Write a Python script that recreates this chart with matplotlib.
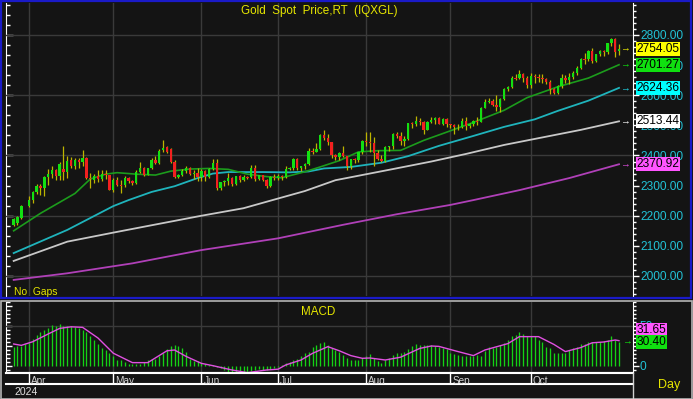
import numpy as np
import matplotlib
matplotlib.use('Agg')
import matplotlib.pyplot as plt
import matplotlib.transforms as mtransforms
from matplotlib.lines import Line2D
from matplotlib.patches import Rectangle
from matplotlib.ticker import MultipleLocator, FixedLocator, FormatStrFormatter

plt.rcParams['font.family'] = ['Liberation Sans', 'DejaVu Sans']

# daily candles 26 Mar .. 1 Nov 2024, one slot per weekday (29 Mar empty)
opens = [2170, 2177, 2194, None, 2232, 2251, 2280, 2300, 2291, 2329,
         2340, 2353, 2333, 2356, 2344, 2384, 2364, 2386, 2380, 2392,
         2326, 2318, 2333, 2322, 2338, 2335, 2287, 2318, 2303, 2301,
         2325, 2314, 2309, 2346, 2360, 2336, 2357, 2386, 2376, 2418,
         2428, 2421, 2379, 2329, 2334, 2350, 2360, 2338, 2343, 2327,
         2350, 2327, 2355, 2376, 2293, 2311, 2316, 2324, 2304, 2333,
         2319, 2329, 2327, 2360, 2322, 2334, 2320, 2298, 2327, 2326,
         2332, 2330, 2356, 2357, 2390, 2359, 2364, 2371, 2415, 2411,
         2422, 2469, 2459, 2445, 2401, 2396, 2409, 2397, 2364, 2387,
         2384, 2410, 2447, 2446, 2443, 2409, 2390, 2382, 2427, 2431,
         2472, 2465, 2447, 2456, 2507, 2504, 2514, 2512, 2485, 2512,
         2518, 2524, 2505, 2520, 2503, 2500, 2493, 2495, 2516, 2497,
         2506, 2516, 2512, 2558, 2578, 2582, 2569, 2560, 2587, 2622,
         2628, 2657, 2656, 2672, 2658, 2634, 2663, 2659, 2656, 2653,
         2644, 2622, 2608, 2631, 2657, 2649, 2662, 2674, 2692, 2721,
         2719, 2748, 2714, 2736, 2747, 2743, 2774, 2788, 2746]
highs = [2193, 2199, 2236, None, 2266, 2281, 2305, 2305, 2331, 2354,
         2365, 2355, 2378, 2431, 2397, 2394, 2392, 2392, 2418, 2394,
         2342, 2338, 2352, 2353, 2353, 2336, 2326, 2327, 2320, 2331,
         2328, 2318, 2352, 2378, 2361, 2359, 2393, 2398, 2422, 2450,
         2432, 2426, 2385, 2340, 2355, 2364, 2362, 2352, 2360, 2354,
         2351, 2357, 2387, 2387, 2313, 2317, 2342, 2328, 2333, 2335,
         2334, 2332, 2368, 2369, 2335, 2335, 2323, 2331, 2340, 2338,
         2335, 2365, 2363, 2392, 2392, 2365, 2376, 2424, 2424, 2440,
         2470, 2483, 2470, 2446, 2406, 2412, 2431, 2399, 2390, 2392,
         2412, 2451, 2477, 2477, 2461, 2419, 2401, 2432, 2433, 2475,
         2477, 2479, 2464, 2509, 2510, 2531, 2526, 2513, 2513, 2528,
         2527, 2528, 2524, 2524, 2505, 2504, 2504, 2523, 2529, 2509,
         2518, 2529, 2560, 2586, 2590, 2589, 2600, 2592, 2625, 2632,
         2664, 2670, 2685, 2674, 2665, 2673, 2669, 2672, 2670, 2658,
         2649, 2625, 2634, 2670, 2666, 2673, 2679, 2696, 2722, 2740,
         2749, 2758, 2737, 2749, 2749, 2774, 2790, 2790, 2770]
lows = [2166, 2170, 2190, None, 2228, 2243, 2272, 2268, 2266, 2302,
        2325, 2318, 2317, 2320, 2326, 2360, 2355, 2357, 2365, 2321,
        2291, 2309, 2311, 2315, 2323, 2285, 2280, 2298, 2277, 2295,
        2308, 2303, 2306, 2342, 2332, 2335, 2354, 2371, 2371, 2410,
        2407, 2374, 2326, 2325, 2331, 2341, 2334, 2323, 2315, 2314,
        2316, 2326, 2352, 2287, 2287, 2298, 2302, 2298, 2302, 2311,
        2315, 2321, 2326, 2316, 2318, 2316, 2293, 2296, 2319, 2318,
        2318, 2324, 2351, 2353, 2353, 2350, 2355, 2368, 2404, 2410,
        2418, 2452, 2436, 2393, 2385, 2385, 2394, 2353, 2354, 2376,
        2380, 2406, 2430, 2410, 2364, 2386, 2378, 2380, 2414, 2423,
        2457, 2436, 2431, 2453, 2492, 2498, 2501, 2470, 2484, 2507,
        2506, 2504, 2502, 2493, 2491, 2472, 2484, 2490, 2486, 2492,
        2497, 2500, 2510, 2556, 2574, 2564, 2547, 2546, 2585, 2614,
        2624, 2652, 2655, 2643, 2624, 2625, 2640, 2644, 2640, 2637,
        2605, 2603, 2603, 2625, 2640, 2637, 2653, 2666, 2688, 2704,
        2713, 2708, 2712, 2729, 2729, 2736, 2765, 2728, 2733]
closes = [2189, 2195, 2232, None, 2251, 2280, 2300, 2291, 2329, 2340,
          2353, 2333, 2372, 2344, 2383, 2364, 2386, 2380, 2392, 2326,
          2322, 2331, 2322, 2338, 2335, 2287, 2318, 2302, 2301, 2325,
          2314, 2309, 2346, 2360, 2336, 2357, 2386, 2376, 2415, 2424,
          2413, 2379, 2329, 2334, 2350, 2360, 2338, 2343, 2327, 2350,
          2327, 2355, 2376, 2293, 2311, 2316, 2324, 2304, 2333, 2319,
          2329, 2327, 2360, 2322, 2334, 2320, 2298, 2327, 2326, 2332,
          2330, 2356, 2357, 2390, 2359, 2364, 2371, 2415, 2411, 2422,
          2469, 2459, 2445, 2401, 2396, 2409, 2397, 2364, 2387, 2384,
          2410, 2447, 2446, 2443, 2409, 2390, 2382, 2427, 2431, 2472,
          2465, 2447, 2456, 2507, 2504, 2514, 2512, 2485, 2512, 2518,
          2524, 2505, 2520, 2503, 2500, 2493, 2495, 2516, 2497, 2506,
          2516, 2512, 2558, 2578, 2582, 2569, 2560, 2587, 2622, 2628,
          2657, 2656, 2672, 2658, 2634, 2663, 2659, 2656, 2653, 2644,
          2622, 2608, 2631, 2657, 2649, 2662, 2674, 2692, 2721, 2719,
          2748, 2714, 2736, 2747, 2743, 2774, 2788, 2743, 2754.05]

# moving averages (bar index, value)
ma_green_idx = [0, 7, 13, 16, 20, 24, 27, 32, 37, 41, 46, 51, 56, 61, 66, 70, 76,
                80, 85, 90, 95, 101, 107, 114, 120, 128, 134, 142, 150, 158]
ma_green = [2150, 2208, 2252, 2274, 2322, 2338, 2343, 2338, 2335, 2348, 2355, 2357,
            2354, 2338, 2330, 2326, 2346, 2362, 2383, 2412, 2416, 2417, 2450, 2482,
            2510, 2550, 2592, 2628, 2657, 2701.27]
ma_cyan_idx = [0, 14, 26, 30, 36, 42, 48, 52, 56, 65, 72, 77, 81, 88, 96, 103,
               111, 120, 128, 136, 142, 150, 158]
ma_cyan = [2076, 2153, 2232, 2252, 2279, 2298, 2325, 2340, 2345, 2345, 2344, 2347,
           2357, 2362, 2376, 2398, 2432, 2465, 2495, 2520, 2548, 2582, 2624.36]
ma_white_idx = [0, 14, 26, 35, 49, 60, 67, 76, 84, 99, 109, 118, 128, 138, 148, 158]
ma_white = [2050, 2114, 2144, 2166, 2200, 2225, 2250, 2282, 2318, 2355, 2380, 2405,
            2435, 2460, 2485, 2513.44]
ma_mag_idx = [0, 14, 31, 49, 69, 86, 100, 114, 120, 132, 145, 158]
ma_mag = [1987, 2009, 2042, 2086, 2125, 2170, 2205, 2236, 2252, 2285, 2325, 2370.92]

macd = [24, 25, 25, 27, 29, 34, 39, 42, 45, 47, 51, 50, 52, 50, 50, 50, 49, 47, 45, 43,
        37, 32, 27, 23, 20, 16, 13, 8, 7, 5, 3, 3, 2, 3, 5, 7, 9, 9, 12, 16,
        21, 25, 26, 25, 22, 17, 9, 6, 6, 4, 2, 1, 1, -1, -3, -5, -7, -8, -8, -7,
        -8, -8, -6, -5, -4, -5, -5, -4, -3, -1, 1, 4, 5, 8, 9, 12, 16, 18, 24, 26,
        29, 30, 26, 22, 20, 17, 14, 10, 8, 7, 8, 10, 12, 15, 10, 6, 4, 7, 10, 14,
        16, 16, 18, 21, 25, 27, 26, 26, 26, 26, 25, 24, 22, 21, 16, 15, 14, 13, 12, 12,
        13, 14, 12, 19, 24, 23, 24, 26, 29, 33, 37, 39, 42, 40, 37, 37, 37, 32, 30, 24,
        22, 16, 16, 16, 16, 20, 22, 24, 27, 28, 30, 30, 30, 30, 31, 33, 37, 32, 30.40]
signal_idx = [0, 2, 5, 9, 12, 15, 18, 22, 26, 31, 35, 40, 42, 45, 49, 52, 57, 61, 66,
              69, 71, 75, 78, 82, 85, 88, 91, 93, 97, 101, 106, 109, 111, 116, 120,
              123, 129, 132, 137, 141, 144, 148, 151, 154, 157, 158]
signal = [27.5, 25.8, 30.4, 40, 47, 49, 48.3, 35, 16, 4.2, 4.2, 19, 20, 12, 3.3, 0.4,
          -5, -8.3, -5, -4, 1.3, 7.5, 15.8, 24.2, 19, 13, 9.6, 10, 7.5, 11, 22, 25,
          24.5, 18, 13, 20, 28, 36.7, 36.7, 27, 18, 23, 29, 30, 32.5, 31.65]

months = ['Apr', 'May', 'Jun', 'Jul', 'Aug', 'Sep', 'Oct']
month_start = [4, 26, 49, 69, 92, 114, 135]

BG = '#141414'
GRID = '#3a3a3a'
CYAN = '#22c2d6'
YELLOW = '#e6e600'

W, H = 693, 399
fig = plt.figure(figsize=(W / 100, H / 100), dpi=100, facecolor=BG)


def fx(x):
    return x / W


def fy(y):
    return 1 - y / H


def box(x0, y0, x1, y1):
    return [fx(x0), fy(y1), fx(x1) - fx(x0), fy(y0) - fy(y1)]


XLIM = (-2.0, 161.65)

# ---- price panel
ax = fig.add_axes(box(6, 3, 633, 296), facecolor=BG)
ax.set_xlim(*XLIM)
ax.set_ylim(1933.6, 2906.2)
for v in range(2000, 2801, 200):
    ax.axhline(v, color=GRID, lw=1, zorder=1)
for m in month_start:
    ax.axvline(m, color=GRID, lw=1, zorder=1)

o = np.array(opens, dtype=float)
h = np.array(highs, dtype=float)
l = np.array(lows, dtype=float)
c = np.array(closes, dtype=float)
x = np.arange(len(c))
ok = ~np.isnan(c)
up = c >= o
body = c - o
body = np.where(np.abs(body) < 3, np.where(up, 3, -3), body)
ax.vlines(x[ok], l[ok], h[ok], color='#bdb400', lw=0.9, zorder=3)
ax.bar(x[ok], body[ok], bottom=o[ok], width=0.62, linewidth=0,
       color=np.where(up, '#12e012', '#f22020')[ok], zorder=4)

ax.plot(ma_mag_idx, ma_mag, color='#b040b8', lw=1.3, zorder=2)
ax.plot(ma_white_idx, ma_white, color='#c8c8c8', lw=1.3, zorder=2)
ax.plot(ma_cyan_idx, ma_cyan, color='#1fb4bc', lw=1.3, zorder=2)
ax.plot(ma_green_idx, ma_green, color='#1c9c1c', lw=1.2, zorder=2)

ax.yaxis.tick_right()
ax.yaxis.set_major_locator(FixedLocator(range(2000, 2801, 100)))
ax.yaxis.set_minor_locator(MultipleLocator(20))
ax.yaxis.set_major_formatter(FormatStrFormatter('%.2f'))
ax.tick_params(axis='y', which='both', direction='out', colors='white',
               labelcolor=CYAN, labelsize=8.6, pad=1, width=1)
ax.tick_params(axis='y', which='major', length=4)
ax.tick_params(axis='y', which='minor', length=2)
ax.tick_params(axis='x', bottom=False, labelbottom=False)
for s in ['top', 'bottom', 'left']:
    ax.spines[s].set_visible(False)
ax.spines['right'].set_color('white')

sec = ax.secondary_yaxis('left')
sec.yaxis.set_major_locator(MultipleLocator(200))
sec.yaxis.set_minor_locator(MultipleLocator(200 / 6))
sec.tick_params(which='both', direction='in', colors='white', labelleft=False, width=1)
sec.tick_params(which='major', length=5)
sec.tick_params(which='minor', length=3)
sec.spines['left'].set_color('white')

# ---- MACD panel
axm = fig.add_axes(box(6, 302, 633, 373), facecolor=BG)
axm.set_xlim(*XLIM)
axm.set_ylim(-8.75, 80)
axm.axhline(50, color=GRID, lw=1, zorder=1)
for m in month_start:
    axm.axvline(m, color=GRID, lw=1, zorder=1)
axm.vlines(x, 0, macd, color='#14d214', lw=0.95, zorder=3)
axm.plot(signal_idx, signal, color='#e050e0', lw=1.0, zorder=4)
axm.yaxis.tick_right()
axm.yaxis.set_major_locator(FixedLocator([0, 50]))
axm.yaxis.set_minor_locator(MultipleLocator(5))
axm.tick_params(axis='y', which='both', direction='out', colors='white',
                labelcolor=CYAN, labelsize=8.6, pad=1, width=1)
axm.tick_params(axis='y', which='major', length=4)
axm.tick_params(axis='y', which='minor', length=2)
axm.tick_params(axis='x', bottom=False, labelbottom=False)
for s in ['top', 'left']:
    axm.spines[s].set_visible(False)
axm.spines['right'].set_color('white')
axm.spines['bottom'].set_color('white')
axm.spines['bottom'].set_linewidth(1.5)
secm = axm.secondary_yaxis('left')
secm.yaxis.set_major_locator(MultipleLocator(25))
secm.yaxis.set_minor_locator(MultipleLocator(5))
secm.tick_params(which='both', direction='in', colors='white', labelleft=False, width=1)
secm.tick_params(which='major', length=4)
secm.tick_params(which='minor', length=3)
secm.spines['left'].set_color('white')

# ---- date strip
axd = fig.add_axes(box(6, 373, 633, 384), facecolor=BG)
axd.set_xlim(*XLIM)
axd.set_ylim(0, 1)
axd.set_xticks([])
axd.set_yticks([])
for s in ['left', 'right']:
    axd.spines[s].set_visible(False)
for s in ['top', 'bottom']:
    axd.spines[s].set_color('white')
    axd.spines[s].set_linewidth(1.5)
for m, name in zip(month_start, months):
    axd.axvline(m, color='white', lw=1)
    axd.text(m + 0.5, 0.3, name, color='#d4d4d4', fontsize=7.2, ha='left',
             va='center', clip_on=True)

# ---- frames
fig.add_artist(Rectangle((fx(1), fy(298)), fx(691) - fx(1), fy(1) - fy(298),
                         transform=fig.transFigure, fill=False, ec='#1a1ac8', lw=1.6))
fig.add_artist(Rectangle((fx(0.5), fy(398.5)), fx(692) - fx(0.5), fy(301) - fy(398.5),
                         transform=fig.transFigure, fill=False, ec='#b4b4b4', lw=1.2))
fig.add_artist(Line2D([fx(633), fx(633)], [fy(373), fy(399)], transform=fig.transFigure,
                      color='#d0d0d0', lw=1))

# ---- texts
fig.text(fx(319), fy(11), 'Gold  Spot  Price,RT  (IQXGL)', color=YELLOW,
         fontsize=8.4, ha='center', va='center')
fig.text(fx(318), fy(312), 'MACD', color=YELLOW, fontsize=8.4, ha='center', va='center')
fig.text(fx(14), fy(292), 'No  Gaps', color=YELLOW, fontsize=7.4, ha='left', va='center')
fig.text(fx(14), fy(392), '2024', color='#e0e0e0', fontsize=7.6, ha='left', va='center')
fig.text(fx(669), fy(385), 'Day', color=YELLOW, fontsize=9, ha='center', va='center')

# last-value tags on the right axis
blend = mtransforms.blended_transform_factory(fig.transFigure, ax.transData)
tags = [(closes[-1], '#ffff00', '#f0f000'),
        (ma_green[-1], '#10e010', '#10e010'),
        (ma_cyan[-1], '#00ffff', '#20d0e0'),
        (ma_white[-1], '#ffffff', '#ffffff'),
        (ma_mag[-1], '#ff55ff', '#e050e0')]
for val, fc, arrow_col in tags:
    fig.text(fx(636.5), val, '%.2f' % val, transform=blend, color='black', fontsize=8.6,
             ha='left', va='center', zorder=10,
             bbox=dict(boxstyle='square,pad=0.08', fc=fc, ec='none'))
    fig.text(fx(625), val, '→', transform=blend, color=arrow_col, fontsize=7,
             ha='center', va='center', zorder=10)

blend_m = mtransforms.blended_transform_factory(fig.transFigure, axm.transData)
fig.text(fx(636.5), signal[-1], '%.2f' % signal[-1],
         transform=mtransforms.offset_copy(blend_m, fig=fig, y=8, units='points'),
         color='black', fontsize=8.6, ha='left', va='center', zorder=10,
         bbox=dict(boxstyle='square,pad=0.08', fc='#ff55ff', ec='none'))
fig.text(fx(636.5), macd[-1], '%.2f' % macd[-1], transform=blend_m, color='black',
         fontsize=8.6, ha='left', va='center', zorder=10,
         bbox=dict(boxstyle='square,pad=0.08', fc='#10e010', ec='none'))
fig.text(fx(627), macd[-1], '→', transform=blend_m, color='#10e010', fontsize=7,
         ha='center', va='center', zorder=10)

fig.savefig('out.png', dpi=100, facecolor=BG)
